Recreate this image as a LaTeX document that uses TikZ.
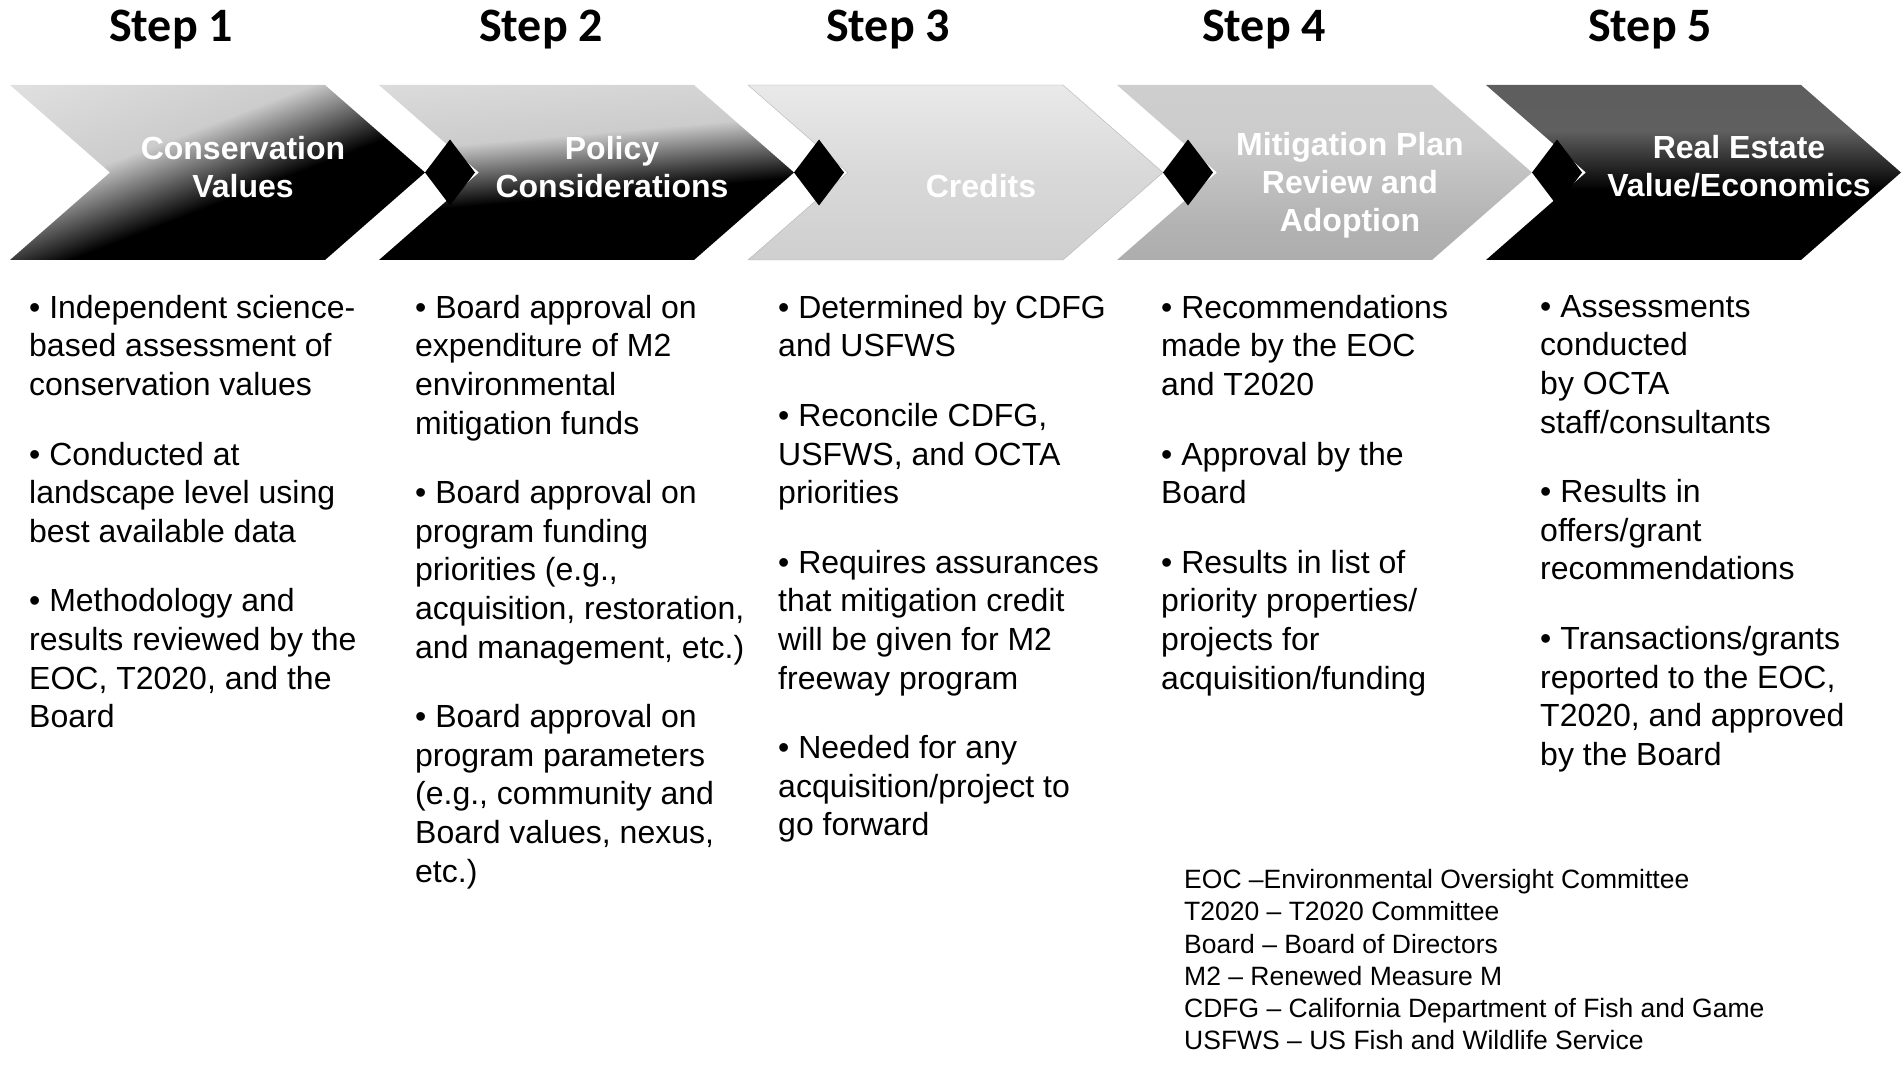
\documentclass[tikz,border=0pt]{standalone}
\usepackage{fontspec}
\setmainfont{Liberation Sans}
\newfontfamily\headfont{Carlito}

\pgfdeclareverticalshading{darkfade}{100bp}{color(0bp)=(black); color(44bp)=(black); color(60bp)=(gray!40); color(100bp)=(gray!12)}
\pgfdeclareverticalshading{palefade}{100bp}{color(0bp)=(gray!45); color(50bp)=(gray!30); color(100bp)=(gray!4)}
\pgfdeclareverticalshading{midfade}{100bp}{color(0bp)=(gray!75); color(35bp)=(gray!60); color(60bp)=(gray!40); color(100bp)=(gray!35)}
\pgfdeclareverticalshading{blackfade}{100bp}{color(0bp)=(black); color(45bp)=(black); color(62bp)=(gray!75!black); color(100bp)=(gray!70!black)}

\begin{document}
\begin{tikzpicture}[x=1pt,y=-1pt]
				\tikzset{steptitle/.style={font=\headfont\bfseries\fontsize{48}{56}\selectfont,anchor=base}}
				\tikzset{chevlabel/.style={text=white,font=\bfseries\fontsize{32}{38}\selectfont,align=center}}
				\tikzset{bullets/.style={anchor=north west,inner sep=0pt,align=left,font=\fontsize{32}{38.6}\selectfont}}
				\tikzset{legendtext/.style={anchor=north west,inner sep=0pt,align=left,font=\fontsize{26.5}{32.3}\selectfont}}
				\useasboundingbox (0,0) rectangle (1904,1078);
				\foreach \x/\shd/\ang/\edge in {10/darkfade/21/none, 379/darkfade/5/none, 748/palefade/0/gray!60, 1117/midfade/0/none, 1486/blackfade/0/none}
					\shade[shading=\shd,shading angle=\ang,draw=\edge] (\x,85) -- ++(315,0) -- ++(100,87.5) -- ++(-100,87.5) -- ++(-315,0) -- ++(100,-87.5) -- cycle;
				\foreach \x in {379,748,1117,1486}
					\fill (\x+71,139.5) -- (\x+96,172.5) -- (\x+71,205.5) -- (\x+46,172.5) -- cycle;
				\node[steptitle] (step1) at (171,42) {Step 1};
				\node[steptitle] (step2) at (541,42) {Step 2};
				\node[steptitle] (step3) at (888,42) {Step 3};
				\node[steptitle] (step4) at (1264,42) {Step 4};
				\node[steptitle] (step5) at (1650,42) {Step 5};
				\node[chevlabel] (values) at (243,167) {Conservation\\Values};
				\node[chevlabel] (policy) at (612,167) {Policy\\Considerations};
				\node[chevlabel] (credits) at (981,186) {Credits};
				\node[chevlabel] (mitigation) at (1350,185) {Mitigation Plan\\Review and\\Adoption};
				\node[chevlabel] (estate) at (1739,166) {Real Estate\\Value/Economics};
				\node[bullets] (col1) at (29,295) {• Independent science-\\based assessment of\\conservation values\\[31pt]
					• Conducted at\\landscape level using\\best available data\\[31pt]
					• Methodology and\\results reviewed by the\\EOC, T2020, and the\\Board};
				\node[bullets] (col2) at (415,295) {• Board approval on\\expenditure of M2\\environmental\\mitigation funds\\[31pt]
					• Board approval on\\program funding\\priorities (e.g.,\\acquisition, restoration,\\and management, etc.)\\[31pt]
					• Board approval on\\program parameters\\(e.g., community and\\Board values, nexus,\\etc.)};
				\node[bullets] (col3) at (778,295) {• Determined by CDFG\\and USFWS\\[31pt]
					• Reconcile CDFG,\\USFWS, and OCTA\\priorities\\[31pt]
					• Requires assurances\\that mitigation credit\\will be given for M2\\freeway program\\[31pt]
					• Needed for any\\acquisition/project to\\go forward};
				\node[bullets] (col4) at (1161,295) {• Recommendations\\made by the EOC\\and T2020\\[31pt]
					• Approval by the\\Board\\[31pt]
					• Results in list of\\priority properties/\\projects for\\acquisition/funding};
				\node[bullets] (col5) at (1540,295) {• Assessments\\conducted\\by OCTA\\staff/consultants\\[31pt]
					• Results in\\offers/grant\\recommendations\\[31pt]
					• Transactions/grants\\reported to the EOC,\\T2020, and approved\\by the Board};
				\node[legendtext] (legend) at (1184,869) {EOC –Environmental Oversight Committee\\T2020 – T2020 Committee\\Board – Board of Directors\\M2 – Renewed Measure M\\CDFG – California Department of Fish and Game\\USFWS – US Fish and Wildlife Service};
			\end{tikzpicture}
\end{document}
